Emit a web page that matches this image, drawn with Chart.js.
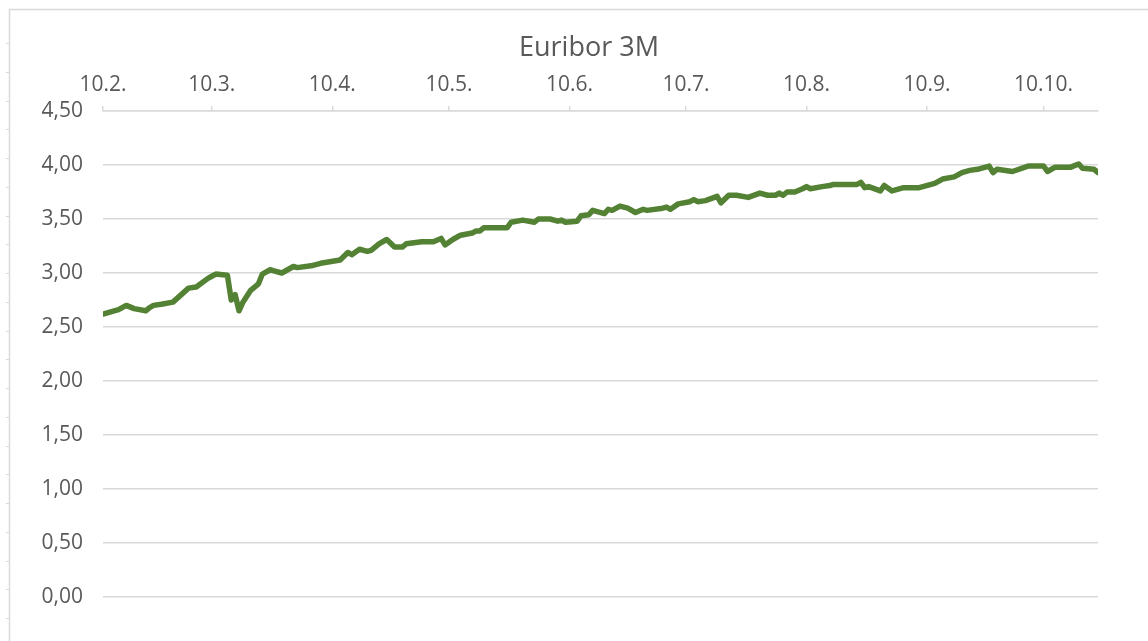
<!DOCTYPE html>
<html>
<head>
<meta charset="utf-8">
<script src="https://cdn.jsdelivr.net/npm/chart.js@4/dist/chart.umd.min.js"></script>
<style>
  body { margin: 0; background: #fff; }
  canvas { display: block; }
</style>
</head>
<body>
<canvas id="euribor" width="1148" height="641"></canvas>
<script>
// days counted from 10.2.
const days = [0, 4, 6, 8, 11, 12, 13, 15, 18, 22, 24, 27, 28, 29, 32, 33, 34, 35, 36, 38,
  40, 41, 43, 44, 46, 49, 50, 54, 56, 61, 63, 64, 66, 68, 69, 71, 73, 75, 77, 78,
  82, 85, 87, 88, 90, 92, 95, 96, 97, 98, 104, 105, 108, 111, 112, 115, 117, 118, 119, 122,
  123, 125, 126, 129, 130, 131, 133, 135, 137, 139, 140, 144, 145, 146, 148, 151, 152, 153, 155, 158,
  159, 161, 163, 166, 169, 171, 173, 174, 175, 176, 178, 180, 181, 182, 185, 187, 188, 194, 195, 196,
  197, 200, 201, 203, 206, 210, 214, 216, 219, 221, 223, 225, 228, 229, 230, 234, 238, 242, 243, 245,
  249, 251, 252, 255, 256];
const rates = [2.62, 2.66, 2.70, 2.67, 2.65, 2.68, 2.70, 2.71, 2.73, 2.86, 2.87, 2.95, 2.97, 2.99, 2.98, 2.75, 2.80, 2.65, 2.73, 2.84,
  2.90, 2.99, 3.03, 3.02, 3.00, 3.06, 3.05, 3.07, 3.09, 3.12, 3.19, 3.17, 3.22, 3.20, 3.21, 3.27, 3.31, 3.24, 3.24, 3.27,
  3.29, 3.29, 3.32, 3.26, 3.31, 3.35, 3.37, 3.39, 3.39, 3.42, 3.42, 3.47, 3.49, 3.47, 3.50, 3.50, 3.48, 3.49, 3.47, 3.48,
  3.53, 3.54, 3.58, 3.55, 3.59, 3.58, 3.62, 3.60, 3.56, 3.59, 3.58, 3.60, 3.61, 3.59, 3.64, 3.66, 3.68, 3.66, 3.67, 3.71,
  3.65, 3.72, 3.72, 3.70, 3.74, 3.72, 3.72, 3.74, 3.72, 3.75, 3.75, 3.78, 3.80, 3.78, 3.80, 3.81, 3.82, 3.82, 3.84, 3.79,
  3.80, 3.76, 3.81, 3.76, 3.79, 3.79, 3.83, 3.87, 3.89, 3.93, 3.95, 3.96, 3.99, 3.93, 3.96, 3.94, 3.99, 3.99, 3.94, 3.98,
  3.98, 4.01, 3.97, 3.96, 3.93];

const tickDays = [0, 28, 59, 89, 120, 150, 181, 212, 242];
const tickLabels = ["10.2.", "10.3.", "10.4.", "10.5.", "10.6.", "10.7.", "10.8.", "10.9.", "10.10."];

const chartTitle = "Euribor 3M";
const textColor = "#595959";
const lineGray = "#d9d9d9";

// outer frame with little marks on the left edge, plus the title
const framePlugin = {
  id: "frame",
  beforeDraw(chart) {
    let ctx = chart.ctx;
    ctx.save();
    ctx.strokeStyle = lineGray;
    ctx.lineWidth = 1.5;
    ctx.beginPath();
    ctx.moveTo(9.5, 641);
    ctx.lineTo(9.5, 9.5);
    ctx.lineTo(1148, 9.5);
    ctx.stroke();
    ctx.lineWidth = 1;
    ctx.beginPath();
    for (let y = 43; y < 641; y += 28.75) {
      ctx.moveTo(6, Math.round(y) + 0.5);
      ctx.lineTo(9, Math.round(y) + 0.5);
    }
    ctx.stroke();

    ctx.fillStyle = textColor;
    ctx.font = "27px 'Open Sans'";
    ctx.textAlign = "center";
    ctx.textBaseline = "middle";
    ctx.fillText(chartTitle, 589, 48);
    ctx.restore();
  },
};

new Chart(document.getElementById("euribor").getContext("2d"), {
  type: "line",
  data: {
    datasets: [
      {
        label: chartTitle,
        data: days.map((d, i) => ({ x: d, y: rates[i] })),
        borderColor: "#548235",
        borderWidth: 5.5,
        pointRadius: 0,
        tension: 0,
        borderJoinStyle: "round",
        borderCapStyle: "round",
      },
    ],
  },
  options: {
    responsive: false,
    animation: false,
    layout: { padding: { left: 0, top: 63, right: 50, bottom: 44 } },
    scales: {
      x: {
        type: "linear",
        position: "top",
        min: 0,
        max: 256,
        afterBuildTicks: (scale) => {
          scale.ticks = tickDays.map((v) => ({ value: v }));
        },
        afterFit: (scale) => {
          scale.height = 48;
        },
        ticks: {
          autoSkip: false,
          maxRotation: 0,
          padding: 8,
          color: textColor,
          font: { family: "Open Sans", size: 21 },
          callback: (v) => tickLabels[tickDays.indexOf(v)],
        },
        grid: {
          drawOnChartArea: false,
          tickLength: 5,
          color: lineGray,
          lineWidth: 1.5,
        },
        border: { color: lineGray, width: 1.5 },
      },
      y: {
        min: 0,
        max: 4.5,
        afterFit: (scale) => {
          scale.width = 103;
        },
        ticks: {
          stepSize: 0.5,
          padding: 20,
          color: textColor,
          font: { family: "Open Sans", size: 21 },
          callback: (v) => v.toFixed(2).replace(".", ","),
        },
        grid: { drawTicks: false, color: lineGray, lineWidth: 1.5 },
        border: { display: false },
      },
    },
    plugins: {
      legend: { display: false },
      tooltip: { enabled: false },
      title: { display: false },
    },
  },
  plugins: [framePlugin],
});
</script>
</body>
</html>
